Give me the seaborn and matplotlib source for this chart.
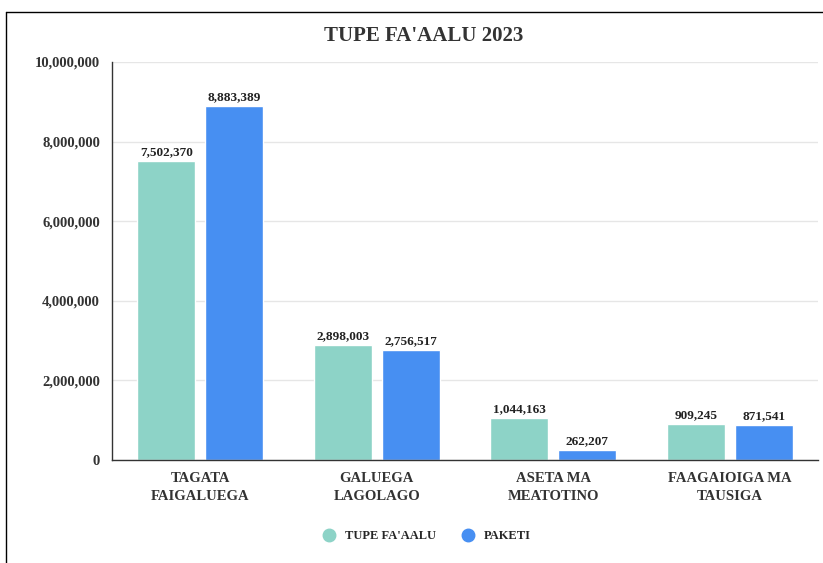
import matplotlib
matplotlib.use("Agg")
import matplotlib.pyplot as plt
from matplotlib.lines import Line2D
from matplotlib.ticker import FuncFormatter
import pandas as pd
import seaborn as sns

categories = ["TAGATA\nFAIGALUEGA", "GALUEGA\nLAGOLAGO", "ASETA MA\nMEATOTINO", "FAAGAIOIGA MA\nTAUSIGA"]
series_names = ["TUPE FA'AALU", "PAKETI"]
tupe_faaalu = [7502370, 2898003, 1044163, 909245]
paketi = [8883389, 2756517, 262207, 871541]
colors = ["#8dd3c7", "#478ff2"]

df = pd.DataFrame({
    "category": categories * 2,
    "series": [series_names[0]] * 4 + [series_names[1]] * 4,
    "value": tupe_faaalu + paketi,
})

sns.set_style("white")
plt.rcParams["font.family"] = ["Liberation Serif", "DejaVu Serif"]
plt.rcParams["font.weight"] = "bold"

fig = plt.figure(figsize=(8.23, 5.63), dpi=100)
ax = fig.add_axes([0.136, 0.183, 0.858, 0.707])

sns.barplot(data=df, x="category", y="value", hue="series", palette=colors,
            saturation=1, width=0.77, gap=0.15, ax=ax, legend=False)

for container in ax.containers:
    ax.bar_label(container, labels=[f"{v:,.0f}" for v in container.datavalues],
                 padding=2, fontsize=9.5, fontweight="bold", color="#222222")

ax.set_xlim(-0.5, 3.5)
ax.set_ylim(0, 10000000)
ax.set_yticks(range(0, 10000001, 2000000))
ax.yaxis.set_major_formatter(FuncFormatter(lambda v, p: f"{v:,.0f}"))
ax.grid(axis="y", color="#e6e6e6", linewidth=1)
ax.set_axisbelow(True)
ax.set_xlabel("")
ax.set_ylabel("")
for s in ["top", "right"]:
    ax.spines[s].set_visible(False)
for s in ["left", "bottom"]:
    ax.spines[s].set_color("#333333")
    ax.spines[s].set_linewidth(1)
ax.tick_params(axis="both", length=5, color="#333333", labelcolor="#333333")
ax.tick_params(axis="x", labelsize=10.5)
ax.tick_params(axis="y", labelsize=10.5)
for lbl in ax.get_xticklabels() + ax.get_yticklabels():
    lbl.set_fontweight("bold")
for lbl in ax.get_xticklabels():
    lbl.set_linespacing(1.55)

fig.text(0.515, 0.936, "TUPE FA'AALU 2023", ha="center", va="center",
         fontsize=15, fontweight="bold", color="#333333")

handles = [Line2D([], [], marker="o", linestyle="", markersize=9, color=c) for c in colors]
fig.legend(handles, series_names, loc="center", bbox_to_anchor=(0.515, 0.048), ncol=2,
           frameon=False, handletextpad=0.3, columnspacing=1.5,
           prop={"weight": "bold", "size": 9})

fig.add_artist(Line2D([0.0073, 0.0073], [0.0, 0.979], transform=fig.transFigure, color="black", linewidth=1))
fig.add_artist(Line2D([0.0073, 1.0], [0.979, 0.979], transform=fig.transFigure, color="black", linewidth=1))

fig.savefig("out.png", dpi=100)
